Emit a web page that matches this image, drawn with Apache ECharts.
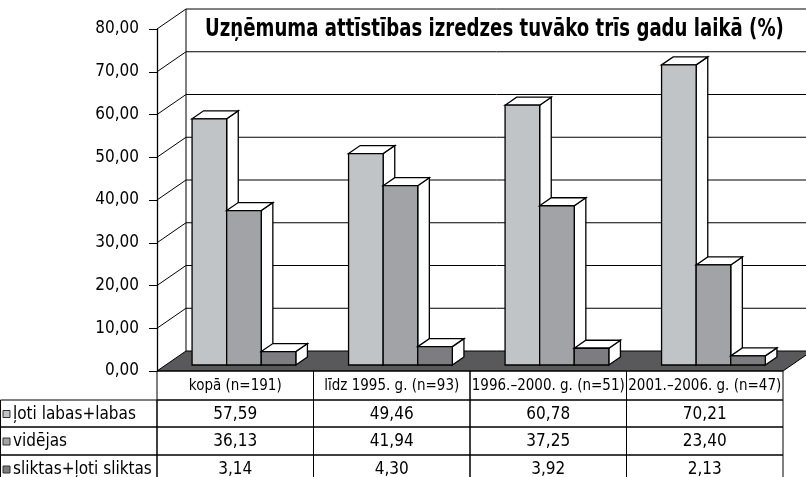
<!DOCTYPE html>
<html>
<head>
<meta charset="utf-8">
<script src="https://cdn.jsdelivr.net/npm/echarts@6/dist/echarts.min.js"></script>
<style>
  html, body { margin: 0; padding: 0; background: #fff; }
  #chart { width: 806px; height: 477px; }
</style>
</head>
<body>
<div id="chart"></div>
<script>
const chartTitle = 'Uzņēmuma attīstības izredzes tuvāko trīs gadu laikā (%)'
const categories = ['kopā (n=191)', 'līdz 1995. g. (n=93)', '1996.–2000. g. (n=51)', '2001.–2006. g. (n=47)']
const seriesNames = ['ļoti labas+labas', 'vidējas', 'sliktas+ļoti sliktas']
const labasValues = [57.59, 49.46, 60.78, 70.21]
const videjasValues = [36.13, 41.94, 37.25, 23.40]
const sliktasValues = [3.14, 4.30, 3.92, 2.13]
const yTicks = [0, 10, 20, 30, 40, 50, 60, 70, 80]

const allValues = [labasValues, videjasValues, sliktasValues]
const colors = ['#c1c4c7', '#a2a3a6', '#7d7c80']
const FONT = '"Liberation Sans Narrow", "DejaVu Sans Condensed", sans-serif'
// depth of the fake 3d box
const DX = 29
const DY = 20
// table rows below the floor
const rowOffsets = [0, 29, 56, 84, 112]

function fmt(v) {
  return v.toFixed(2).replace('.', ',')
}

// walls, gridlines and floor
function renderWall(params, api) {
  const cs = params.coordSys
  const v = api.value(1)
  const y = api.coord([0, v])[1]
  const x0 = cs.x
  const x1 = cs.x + cs.width
  const line = { stroke: '#000', lineWidth: 1 }
  const children = []
  if (v === 0) {
    children.push({
      type: 'polygon',
      shape: { points: [[x0, y], [x1, y], [x1 + DX, y - DY], [x0 + DX, y - DY]] },
      style: { fill: '#59595b', stroke: '#000', lineWidth: 1 }
    })
  } else {
    children.push({ type: 'line', shape: { x1: x0, y1: y, x2: x0 + DX, y2: y - DY }, style: line })
    children.push({ type: 'line', shape: { x1: x0 + DX, y1: y - DY, x2: x1 + DX, y2: y - DY }, style: line })
  }
  if (v === yTicks[yTicks.length - 1]) {
    const yb = api.coord([0, 0])[1]
    children.push({ type: 'line', shape: { x1: x0 + DX, y1: y - DY, x2: x0 + DX, y2: yb - DY }, style: line })
  }
  return { type: 'group', children: children }
}

function renderBar(k) {
  return function (params, api) {
    const base = api.coord([api.value(0), 0])
    const top = api.coord([api.value(0), api.value(1)])
    const band = api.size([1, 0])[0]
    const w = band * 0.221
    const fx = 0.3 * DX, fy = 0.3 * DY
    const bx = 0.4 * DX, by = 0.4 * DY
    const xa = base[0] + (k - 1.5) * w + fx
    const xb = xa + w
    const yt = top[1] - fy
    const yb = base[1] - fy
    const edge = { stroke: '#000', lineWidth: 1.3 }
    return {
      type: 'group',
      children: [
        { type: 'polygon', shape: { points: [[xb, yt], [xb + bx, yt - by], [xb + bx, yb - by], [xb, yb]] },
          style: Object.assign({ fill: '#fff' }, edge) },
        { type: 'polygon', shape: { points: [[xa, yt], [xa + bx, yt - by], [xb + bx, yt - by], [xb, yt]] },
          style: Object.assign({ fill: '#fff' }, edge) },
        { type: 'rect', shape: { x: xa, y: yt, width: w, height: yb - yt },
          style: Object.assign({ fill: colors[k] }, edge) }
      ]
    }
  }
}

// one table column per category
function renderTable(params, api) {
  const i = api.value(0)
  const c = api.coord([i, 0])
  const band = api.size([1, 0])[0]
  const xl = c[0] - band / 2
  const y0 = c[1]
  const children = []
  for (let r = 0; r < 4; r++) {
    const ya = y0 + rowOffsets[r]
    const yb = y0 + rowOffsets[r + 1]
    children.push({
      type: 'rect',
      shape: { x: xl, y: ya, width: band, height: yb - ya },
      style: { fill: 'none', stroke: '#000', lineWidth: 1 }
    })
    const txt = r === 0 ? categories[i] : fmt(allValues[r - 1][i])
    children.push({
      type: 'text',
      x: c[0], y: (ya + yb) / 2 + 1,
      style: {
        text: txt, align: 'center', verticalAlign: 'middle',
        font: (r === 0 ? '15px ' : '17px ') + FONT, fill: '#000'
      }
    })
  }
  return { type: 'group', children: children }
}

const chart = echarts.init(document.getElementById('chart'))

const gridLeft = 157, gridTop = 29, gridWidth = 626, gridHeight = 342
const gridBottom = gridTop + gridHeight

const legendGraphics = []
seriesNames.forEach(function (name, r) {
  const ya = gridBottom + rowOffsets[r + 1]
  const yb = gridBottom + rowOffsets[r + 2]
  legendGraphics.push({
    type: 'rect', shape: { x: 0.5, y: ya, width: gridLeft - 0.5, height: yb - ya },
    style: { fill: 'none', stroke: '#000', lineWidth: 1 }
  })
  legendGraphics.push({
    type: 'rect', shape: { x: 3, y: (ya + yb) / 2 - 3, width: 7, height: 7 },
    style: { fill: colors[r], stroke: '#333', lineWidth: 1 }
  })
  legendGraphics.push({
    type: 'text', x: 13, y: (ya + yb) / 2 + 1,
    style: { text: name, align: 'left', verticalAlign: 'middle', font: '17px ' + FONT, fill: '#000' }
  })
})

const series = [{
  type: 'custom',
  name: 'wall',
  renderItem: renderWall,
  data: yTicks.map(function (v) { return [0, v] }),
  encode: { x: 0, y: 1 },
  clip: false,
  silent: true,
  z: 1
}]
allValues.forEach(function (vals, k) {
  series.push({
    type: 'custom',
    name: seriesNames[k],
    renderItem: renderBar(k),
    data: vals.map(function (v, i) { return [i, v] }),
    encode: { x: 0, y: 1 },
    clip: false,
    z: 2 + k
  })
})
series.push({
  type: 'custom',
  name: 'table',
  renderItem: renderTable,
  data: categories.map(function (c, i) { return [i, 0] }),
  encode: { x: 0, y: 1 },
  clip: false,
  silent: true,
  z: 6
})

chart.setOption({
  animation: false,
  backgroundColor: '#fff',
  grid: { left: gridLeft, top: gridTop, width: gridWidth, height: gridHeight },
  xAxis: {
    type: 'category',
    data: categories,
    axisLine: { show: false },
    axisTick: { show: false },
    axisLabel: { show: false },
    splitLine: { show: false }
  },
  yAxis: {
    type: 'value',
    min: 0,
    max: 80,
    interval: 10,
    axisLine: { show: true, lineStyle: { color: '#000', width: 1.3 } },
    axisTick: { show: true, length: 8, lineStyle: { color: '#000' } },
    axisLabel: { formatter: fmt, color: '#000', fontSize: 17, fontFamily: FONT, margin: 18 },
    splitLine: { show: false }
  },
  graphic: [{
    type: 'text', x: 205, y: 30, z: 10, scaleX: 0.84,
    style: { text: chartTitle, align: 'left', verticalAlign: 'middle', font: 'bold 24px ' + FONT, fill: '#000' }
  }].concat(legendGraphics),
  series: series
})
</script>
</body>
</html>
